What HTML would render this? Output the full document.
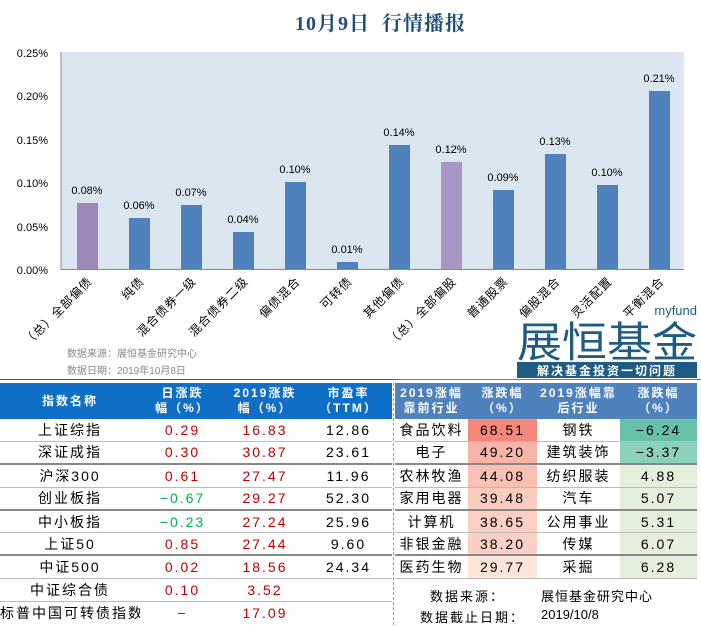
<!DOCTYPE html>
<html><head><meta charset="utf-8"><style>
body{margin:0;width:701px;height:625px;background:#fff;position:relative;overflow:hidden;font-family:"Liberation Sans","Noto Sans CJK SC",sans-serif}
.a{position:absolute}
table{border-collapse:collapse;position:absolute;table-layout:fixed}
td{padding:0;text-align:center;height:21.9px;line-height:20px;font-size:14px;letter-spacing:2px;white-space:nowrap;border-bottom:1px solid #bbb;overflow:hidden}
tr.h td{height:36px;color:#fff;font-weight:bold;font-size:12px;line-height:15px;letter-spacing:2px;border:none}
tr.d td{border-bottom:2px solid #888;height:20.9px}
.r{color:#c00000}.g{color:#00b050}
</style></head><body>
<div class="a" style="left:0;width:701px;top:7px;text-align:center;font-size:20px;font-weight:bold;color:#1f4e79;padding-left:60px;box-sizing:border-box;letter-spacing:1px;font-family:'Liberation Serif','Noto Serif CJK SC',serif">10月9日&nbsp;&nbsp;行情播报</div>
<svg class="a" style="left:0;top:0" width="701" height="380" font-family="Liberation Sans, Noto Sans CJK SC, sans-serif">
<rect x="61" y="52" width="623" height="217" fill="#dce6f1"/>
<line x1="61" y1="52" x2="61" y2="270" stroke="#888"/>
<line x1="61" y1="269.5" x2="684" y2="269.5" stroke="#888"/>
<g font-size="11" text-anchor="end" fill="#000">
<text x="48" y="57">0.25%</text><text x="48" y="100">0.20%</text><text x="48" y="144">0.15%</text><text x="48" y="187">0.10%</text><text x="48" y="231">0.05%</text><text x="48" y="274">0.00%</text></g>
<g font-size="11" text-anchor="middle">
<rect x="77" y="203" width="21" height="66" fill="#9c87b8"/><text x="87" y="194">0.08%</text>
<rect x="129" y="218" width="21" height="51" fill="#4f81bd"/><text x="139" y="209">0.06%</text>
<rect x="181" y="205" width="21" height="64" fill="#4f81bd"/><text x="191" y="196">0.07%</text>
<rect x="233" y="232" width="21" height="37" fill="#4f81bd"/><text x="243" y="223">0.04%</text>
<rect x="285" y="182" width="21" height="87" fill="#4f81bd"/><text x="295" y="173">0.10%</text>
<rect x="337" y="262" width="21" height="7" fill="#4f81bd"/><text x="347" y="253">0.01%</text>
<rect x="389" y="145" width="21" height="124" fill="#4f81bd"/><text x="399" y="136">0.14%</text>
<rect x="441" y="162" width="21" height="107" fill="#a897c2"/><text x="451" y="153">0.12%</text>
<rect x="493" y="190" width="21" height="79" fill="#4f81bd"/><text x="503" y="181">0.09%</text>
<rect x="545" y="154" width="21" height="115" fill="#4f81bd"/><text x="555" y="145">0.13%</text>
<rect x="597" y="185" width="21" height="84" fill="#4f81bd"/><text x="607" y="176">0.10%</text>
<rect x="649" y="91" width="21" height="178" fill="#4f81bd"/><text x="659" y="82">0.21%</text>
</g>
<g font-size="12" text-anchor="end" fill="#000" letter-spacing="1">
<text transform="translate(93,282) rotate(-45)">（总）全部偏债</text>
<text transform="translate(145,282) rotate(-45)">纯债</text>
<text transform="translate(197,282) rotate(-45)">混合债券一级</text>
<text transform="translate(249,282) rotate(-45)">混合债券二级</text>
<text transform="translate(301,282) rotate(-45)">偏债混合</text>
<text transform="translate(353,282) rotate(-45)">可转债</text>
<text transform="translate(405,282) rotate(-45)">其他偏债</text>
<text transform="translate(457,282) rotate(-45)">（总）全部偏股</text>
<text transform="translate(509,282) rotate(-45)">普通股票</text>
<text transform="translate(561,282) rotate(-45)">偏股混合</text>
<text transform="translate(613,282) rotate(-45)">灵活配置</text>
<text transform="translate(665,282) rotate(-45)">平衡混合</text>
</g>
<g font-size="10" fill="#888"><text x="67" y="357">数据来源：展恒基金研究中心</text><text x="67" y="374">数据日期：2019年10月8日</text></g>
<text x="697" y="315" font-size="13" text-anchor="end" fill="#1f5b82">myfund</text>
<text x="607" y="357" font-size="42" text-anchor="middle" fill="#1f5b82" textLength="180" lengthAdjust="spacingAndGlyphs">展恒基金</text>
<rect x="517" y="362" width="180" height="16" fill="#1f5b82"/>
<text x="607" y="375" font-size="12" font-weight="bold" fill="#fff" text-anchor="middle" letter-spacing="2">解决基金投资一切问题</text>
<rect x="0" y="379" width="400" height="4" fill="#0070c0"/><rect x="400" y="379" width="301" height="4" fill="#4f81bd"/>
</svg>
<div class="a" style="left:393px;top:383px;height:242px;border-left:1px dashed #999"></div>
<table style="left:0;top:383px;width:392px">
<col style="width:140px"><col style="width:85px"><col style="width:80px"><col style="width:87px">
<tr class="h" style="background:#0f6fc6"><td>指数名称</td><td>日涨跌<br>幅（%）</td><td>2019涨跌<br>幅（%）</td><td>市盈率<br>（TTM）</td></tr>
<tr><td>上证综指</td><td class="r">0.29</td><td class="r">16.83</td><td>12.86</td></tr>
<tr class="d"><td>深证成指</td><td class="r">0.30</td><td class="r">30.87</td><td>23.61</td></tr>
<tr><td>沪深300</td><td class="r">0.61</td><td class="r">27.47</td><td>11.96</td></tr>
<tr class="d"><td>创业板指</td><td class="g">−0.67</td><td class="r">29.27</td><td>52.30</td></tr>
<tr><td>中小板指</td><td class="g">−0.23</td><td class="r">27.24</td><td>25.96</td></tr>
<tr class="d"><td>上证50</td><td class="r">0.85</td><td class="r">27.44</td><td>9.60</td></tr>
<tr><td>中证500</td><td class="r">0.02</td><td class="r">18.56</td><td>24.34</td></tr>
<tr><td>中证综合债</td><td class="r">0.10</td><td class="r">3.52</td><td></td></tr>
<tr><td style="border:none">标普中国可转债指数</td><td class="r" style="border:none">−</td><td class="r" style="border:none">17.09</td><td style="border:none"></td></tr>
</table>
<table style="left:395px;top:383px;width:302px">
<col style="width:73px"><col style="width:69px"><col style="width:83px"><col style="width:77px">
<tr class="h" style="background:#4f81bd"><td>2019涨幅<br>靠前行业</td><td>涨跌幅<br>（%）</td><td>2019涨幅靠<br>后行业</td><td>涨跌幅<br>（%）</td></tr>
<tr><td>食品饮料</td><td style="background:#f4877a">68.51</td><td>钢铁</td><td style="background:#67c1a8">−6.24</td></tr>
<tr class="d"><td>电子</td><td style="background:#f8b4a8">49.20</td><td>建筑装饰</td><td style="background:#8dd0bc">−3.37</td></tr>
<tr><td>农林牧渔</td><td style="background:#f9c0b3">44.08</td><td>纺织服装</td><td style="background:#e4efdc">4.88</td></tr>
<tr class="d"><td>家用电器</td><td style="background:#fbcdbf">39.48</td><td>汽车</td><td style="background:#e4efdc">5.07</td></tr>
<tr><td>计算机</td><td style="background:#fbcfc1">38.65</td><td>公用事业</td><td style="background:#e4efdc">5.31</td></tr>
<tr class="d"><td>非银金融</td><td style="background:#fbd0c3">38.20</td><td>传媒</td><td style="background:#e4efdc">6.07</td></tr>
<tr><td>医药生物</td><td style="background:#fde6d8">29.77</td><td>采掘</td><td style="background:#e4efdc">6.28</td></tr>
</table>
<div class="a" style="left:430px;top:586px;font-size:13px;letter-spacing:2px">数据来源：</div>
<div class="a" style="left:541px;top:586px;font-size:13px;letter-spacing:1px">展恒基金研究中心</div>
<div class="a" style="left:420px;top:607px;font-size:13px;letter-spacing:2px">数据截止日期：</div>
<div class="a" style="left:541px;top:607px;font-size:13px">2019/10/8</div>
</body></html>
